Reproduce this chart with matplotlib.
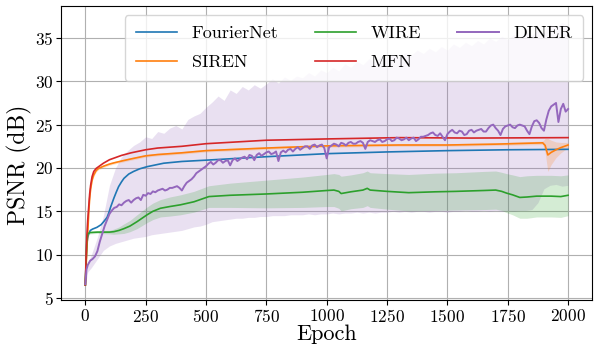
import numpy as np
import matplotlib
matplotlib.use("Agg")
import matplotlib.pyplot as plt

plt.rcParams["font.family"] = "cmr10"
plt.rcParams["mathtext.fontset"] = "cm"
plt.rcParams["axes.formatter.use_mathtext"] = True

# MFN
ep_mfn = [0, 3, 6, 10, 14, 18, 22, 28, 35, 45, 55, 75, 100, 120, 150, 190,
          250, 300, 400, 500, 750, 1000, 1300, 1600, 2000]
mfn = [6.5, 9.5, 12.0, 14.0, 15.5, 17.0, 18.0, 19.0, 19.6, 19.95, 20.15, 20.55,
       20.95, 21.15, 21.45, 21.75, 22.1, 22.3, 22.5, 22.8, 23.2, 23.35, 23.5,
       23.45, 23.5]

# SIREN
ep_siren = [0, 3, 6, 10, 14, 18, 22, 28, 35, 45, 55, 75, 100, 120, 150, 190,
            250, 300, 400, 500, 750, 1000, 1300, 1500, 1700, 1895, 1905, 1916,
            1930, 1950, 1970, 2000]
siren = [6.5, 8.5, 10.5, 12.5, 14.8, 16.5, 17.6, 18.6, 19.2, 19.7, 19.95, 20.2,
         20.45, 20.6, 20.8, 21.05, 21.4, 21.55, 21.75, 22.0, 22.3, 22.55, 22.65,
         22.65, 22.75, 22.9, 22.6, 21.5, 21.8, 22.1, 22.35, 22.65]
siren_sd = [0.1, 0.3, 0.4, 0.4, 0.4, 0.3, 0.3, 0.2, 0.2, 0.15, 0.15, 0.15,
            0.15, 0.15, 0.15, 0.15, 0.15, 0.15, 0.15, 0.15, 0.15, 0.15, 0.15,
            0.15, 0.15, 0.2, 0.8, 1.9, 1.4, 0.9, 0.6, 0.3]

# FourierNet
ep_fn = [0, 3, 6, 10, 15, 21, 30, 48, 65, 76, 90, 97, 105, 118, 128, 138, 150,
         160, 180, 200, 225, 256, 325, 400, 500, 750, 1000, 1250, 1500, 1750, 2000]
fn = [6.5, 9.0, 11.2, 12.0, 12.5, 12.8, 12.95, 13.15, 13.45, 13.8, 14.3, 14.8,
      15.5, 16.5, 17.2, 17.85, 18.4, 18.8, 19.3, 19.6, 19.9, 20.15, 20.55, 20.75,
      20.9, 21.3, 21.65, 21.85, 22.0, 22.1, 22.15]

# WIRE
ep_wire = [0, 3, 6, 10, 20, 50, 100, 118, 140, 160, 185, 214, 235, 256, 280,
           311, 350, 394, 450, 512, 600, 750, 900, 1000, 1030, 1050, 1060, 1100,
           1150, 1168, 1180, 1250, 1340, 1450, 1535, 1650, 1700, 1725, 1745,
           1770, 1800, 1830, 1870, 1930, 1970, 2000]
wire = [6.5, 9.0, 11.5, 12.4, 12.55, 12.6, 12.6, 12.65, 12.8, 13.0, 13.3, 13.8,
        14.2, 14.6, 15.0, 15.35, 15.55, 15.75, 16.1, 16.7, 16.85, 17.0, 17.2,
        17.4, 17.45, 17.3, 17.05, 17.25, 17.45, 17.65, 17.45, 17.3, 17.15, 17.25,
        17.3, 17.4, 17.45, 17.3, 17.1, 16.9, 16.6, 16.65, 16.75, 16.75, 16.7, 16.85]
wire_sd = [0.2, 0.4, 0.4, 0.2, 0.15, 0.15, 0.2, 0.3, 0.4, 0.55, 0.65, 0.8,
           0.85, 0.9, 0.95, 1.0, 1.1, 1.15, 1.2, 1.25, 1.4, 1.6, 1.75, 1.85,
           1.9, 1.95, 2.0, 1.95, 2.0, 2.0, 2.0, 2.05, 2.1, 2.15, 2.15, 2.2, 2.2,
           2.2, 2.25, 2.3, 2.4, 2.45, 2.4, 2.4, 2.4, 2.35]

# DINER mean, epochs 0, 5 then every 10
ep_diner = np.r_[0, 5, np.arange(10, 2001, 10)]
diner = [6.6, 8.3,
         8.8, 9.3, 9.5, 9.8, 10.4, 11.5, 12.4, 13.3, 14.0, 14.7,            # 10-100
         15.1, 15.4, 15.5, 15.8, 15.7, 16.0, 16.2, 16.3, 16.0, 16.3,        # 110-200
         16.5, 16.6, 16.3, 16.9, 16.8, 17.1, 17.0, 17.3, 17.2, 17.4,        # 210-300
         17.5, 17.6, 17.4, 17.5, 17.7, 17.7, 17.8, 17.9, 17.7, 17.4,        # 310-400
         17.9, 18.3, 18.5, 18.7, 19.0, 19.4, 19.6, 19.8, 20.0, 20.2,        # 410-500
         20.5, 20.7, 20.4, 20.6, 20.9, 20.9, 20.6, 20.8, 20.9, 20.3,        # 510-600
         20.9, 21.1, 20.8, 21.0, 21.2, 21.3, 21.0, 21.5, 21.4, 20.9,        # 610-700
         21.5, 21.7, 21.4, 21.6, 21.8, 21.9, 21.6, 21.7, 21.9, 20.8,        # 710-800
         21.8, 22.0, 21.8, 22.1, 22.2, 21.9, 22.2, 22.4, 22.1, 22.3,        # 810-900
         22.5, 22.5, 22.2, 22.6, 22.7, 22.4, 22.6, 22.7, 22.3, 21.1,        # 910-1000
         22.4, 22.6, 22.8, 22.7, 22.5, 22.9, 22.8, 22.6, 22.9, 23.0,        # 1010-1100
         22.8, 22.8, 23.0, 23.1, 22.9, 22.2, 23.0, 23.2, 23.1, 23.0,        # 1110-1200
         23.2, 23.3, 23.0, 23.1, 23.3, 23.4, 23.1, 23.2, 23.5, 23.4,        # 1210-1300
         23.2, 23.3, 23.5, 23.2, 23.4, 23.5, 23.1, 23.3, 23.6, 23.6,        # 1310-1400
         23.7, 23.8, 24.0, 24.1, 23.8, 23.7, 24.0, 23.6, 23.2, 23.9,        # 1410-1500
         24.2, 24.4, 24.1, 24.0, 24.3, 24.2, 23.8, 23.9, 24.3, 24.4,        # 1510-1600
         24.1, 24.3, 24.4, 24.5, 24.2, 24.2, 24.6, 24.9, 25.0, 24.6,        # 1610-1700
         24.3, 23.8, 24.5, 24.8, 24.9, 25.0, 24.7, 24.6, 24.9, 25.0,        # 1710-1800
         24.9, 24.8, 24.3, 23.9, 24.8, 25.4, 25.5, 25.2, 24.6, 24.3,        # 1810-1900
         25.6, 26.6, 27.1, 27.3, 27.5, 25.3, 26.8, 27.4, 26.5, 26.8]        # 1910-2000

# DINER band, epochs 0, 10 then every 25
ep_band = np.r_[0, 10, np.arange(25, 2001, 25)]
diner_hi = [7.0, 9.0,
            10.0, 12.0, 14.5, 18.0, 20.0, 21.3, 22.0, 22.6,                  # 25-200
            23.0, 23.6, 23.4, 24.2, 24.0, 24.6, 24.9, 24.5,                  # 225-400
            25.6, 26.0, 26.3, 27.0, 27.6, 28.3, 27.8, 29.0,                  # 425-600
            28.6, 29.4, 29.0, 29.6, 29.2, 29.7, 30.3, 29.8,                  # 625-800
            30.5, 30.1, 30.6, 30.4, 31.0, 30.6, 31.3, 31.0,                  # 825-1000
            31.6, 31.2, 32.0, 31.6, 32.3, 31.9, 32.6, 32.2,                  # 1025-1200
            32.9, 32.5, 33.1, 32.7, 33.3, 33.0, 33.6, 33.2,                  # 1225-1400
            33.8, 33.4, 34.0, 33.6, 34.3, 33.9, 34.5, 34.1,                  # 1425-1600
            34.7, 34.3, 35.0, 34.6, 35.2, 34.8, 35.4, 35.1,                  # 1625-1800
            35.7, 35.3, 36.0, 35.6, 36.6, 36.2, 36.8, 36.4]                  # 1825-2000
diner_lo = [6.4, 8.0,
            8.5, 9.5, 10.5, 11.0, 11.3, 11.5, 11.7, 11.9,
            12.0, 12.1, 12.3, 12.4, 12.5, 12.6, 12.7, 12.8,
            13.0, 13.2, 13.3, 13.5, 13.8, 13.9, 14.0, 14.1,
            14.2, 14.2, 14.3, 14.3, 14.4, 14.4, 14.5, 14.5,
            14.5, 14.6, 14.6, 14.6, 14.7, 14.6, 14.7, 14.7,
            14.8, 14.7, 14.8, 14.8, 14.9, 14.8, 14.9, 14.8,
            14.9, 14.9, 15.0, 14.9, 15.0, 14.9, 15.0, 15.0,
            14.9, 15.0, 15.0, 14.9, 15.0, 15.0, 15.1, 15.0,
            15.0, 15.1, 15.0, 15.1, 15.0, 15.1, 15.0, 15.1,
            15.1, 15.2, 16.0, 17.6, 18.0, 18.1, 17.9, 18.0]

fig, ax = plt.subplots(figsize=(5.94, 3.46), dpi=100)
fig.subplots_adjust(left=0.103, right=0.997, bottom=0.133, top=0.983)

c_fn, c_siren, c_wire, c_mfn, c_diner = "tab:blue", "tab:orange", "tab:green", "tab:red", "tab:purple"

ax.fill_between(ep_band, diner_lo, diner_hi, color=c_diner, alpha=0.2, lw=0)
ax.fill_between(ep_wire, np.array(wire) - np.array(wire_sd), np.array(wire) + np.array(wire_sd),
                color=c_wire, alpha=0.2, lw=0)
ax.fill_between(ep_siren, np.array(siren) - np.array(siren_sd), np.array(siren) + np.array(siren_sd),
                color=c_siren, alpha=0.2, lw=0)

ax.plot(ep_fn, fn, color=c_fn, lw=1.2, label="FourierNet")
ax.plot(ep_siren, siren, color=c_siren, lw=1.2, label="SIREN")
ax.plot(ep_wire, wire, color=c_wire, lw=1.2, label="WIRE")
ax.plot(ep_mfn, mfn, color=c_mfn, lw=1.2, label="MFN")
ax.plot(ep_diner, diner, color=c_diner, lw=1.4, label="DINER")

ax.set_xlim(-100, 2100)
ax.set_ylim(4.77, 38.7)
ax.set_xticks(np.arange(0, 2001, 250))
ax.set_yticks(np.arange(5, 36, 5))
ax.tick_params(labelsize=12.5, pad=2)
ax.grid(True, color="#b0b0b0", lw=0.8)
ax.set_axisbelow(True)
ax.set_xlabel("Epoch", fontsize=16, labelpad=0)
ax.set_ylabel("PSNR (dB)", fontsize=17)
ax.yaxis.set_label_coords(-0.055, 0.46)

ax.legend(loc="upper right", ncol=3, fontsize=13, handlelength=2.3,
          labelspacing=0.72, columnspacing=2.0, borderpad=0.6)

fig.savefig("out.png", dpi=100)
